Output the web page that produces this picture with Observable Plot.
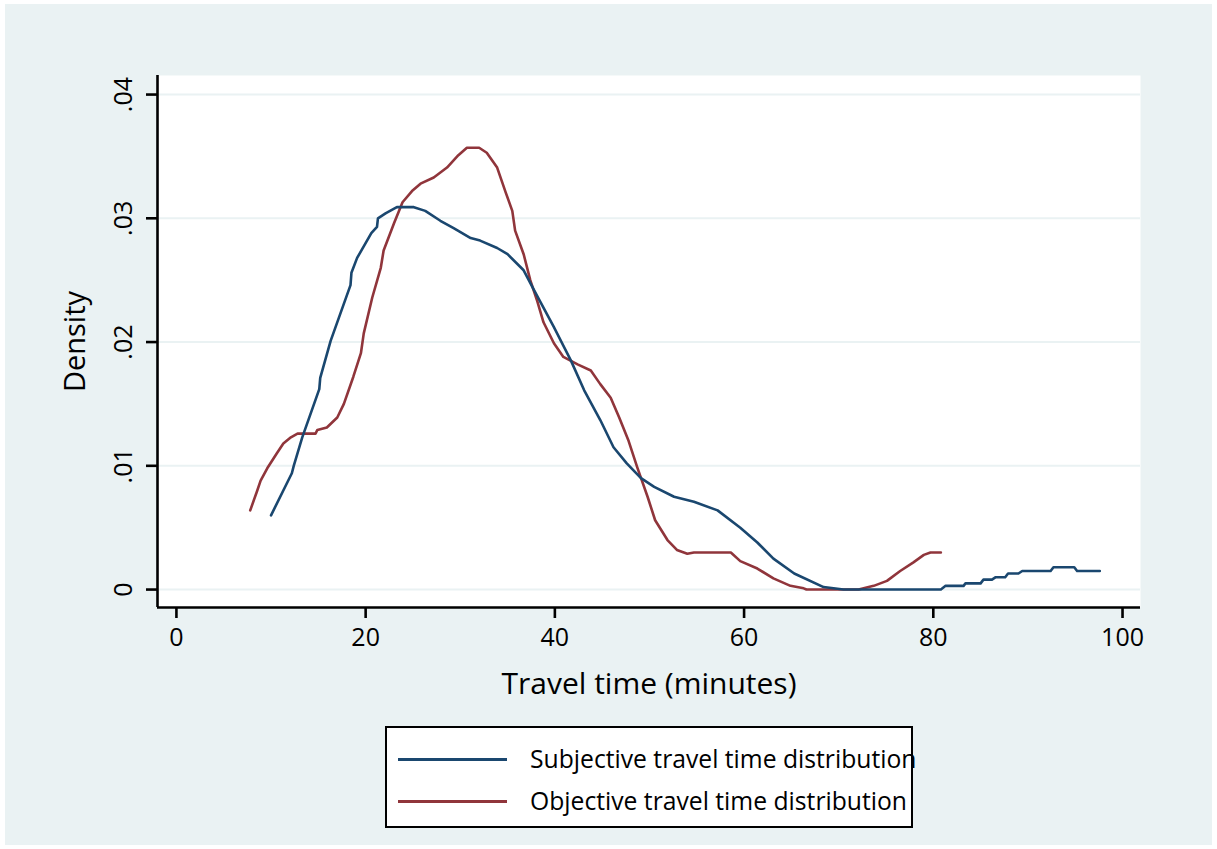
<!DOCTYPE html>
<html>
<head>
<meta charset="utf-8">
<script src="https://cdn.jsdelivr.net/npm/d3@7"></script>
<script src="https://cdn.jsdelivr.net/npm/@observablehq/plot@0.6"></script>
<style>
  html, body { margin: 0; padding: 0; background: #ffffff; }
  #wrap { position: absolute; left: 5px; top: 4px; width: 1207px; height: 841px; background: #EAF2F3; font-family: "Open Sans", sans-serif; }
  #chart { position: absolute; left: 0; top: 0; }
  #legend { position: absolute; left: 380px; top: 722px; width: 528px; height: 102px; box-sizing: border-box; border: 2.5px solid #000; background: #fff; }
  .item { position: absolute; left: 0; height: 30px; white-space: nowrap; }
  .swatch { position: absolute; left: 11px; width: 109px; height: 3px; }
  .label { position: absolute; left: 143px; top: 0; line-height: 30px; font-size: 24.7px; color: #000; white-space: nowrap; }
</style>
</head>
<body>
<div id="wrap">
  <div id="chart"></div>
  <div id="legend"></div>
</div>
<script>
// ---- data ----
const seriesNames = ["Subjective travel time distribution", "Objective travel time distribution"];
const seriesColors = ["#1A476F", "#90353B"];

const subjX = [10.0,12.2,12.4,13.3,15.1,15.2,16.3,18.4,18.5,19.1,20.6,21.2,21.3,22.1,23.3,25.1,26.3,27.9,29.3,31.1,32.1,33.9,35.0,36.7,37.8,39.9,41.7,43.1,44.8,46.2,47.6,49.1,50.5,52.6,54.7,57.2,59.6,61.4,63.1,65.3,68.4,70.5,80.8,81.3,83.2,83.4,85.0,85.3,86.2,86.6,87.6,87.9,89.0,89.4,92.4,92.7,94.9,95.2,97.6];
const subjY = [0.0060,0.0094,0.0100,0.0123,0.0162,0.0171,0.0201,0.0246,0.0256,0.0268,0.0288,0.0293,0.0300,0.0304,0.0309,0.0309,0.0306,0.0298,0.0292,0.0284,0.0282,0.0276,0.0271,0.0258,0.0242,0.0212,0.0185,0.0161,0.0137,0.0115,0.0102,0.0090,0.0083,0.0075,0.0071,0.0064,0.0050,0.0038,0.0025,0.0013,0.0002,0.0000,0.0000,0.0003,0.0003,0.0005,0.0005,0.0008,0.0008,0.0010,0.0010,0.0013,0.0013,0.0015,0.0015,0.0018,0.0018,0.0015,0.0015];

const objX = [7.8,8.5,8.9,9.6,10.6,11.3,12.1,12.8,14.7,14.9,15.9,17.0,17.7,18.7,19.5,19.8,20.7,21.6,21.9,23.0,23.9,24.9,25.8,27.2,28.6,29.8,30.7,32.0,32.8,33.9,34.8,35.5,35.8,36.7,37.4,38.1,38.8,39.9,40.9,42.4,43.8,44.8,45.9,46.8,47.8,48.7,49.8,50.6,51.9,52.9,54.0,54.7,58.6,59.6,61.4,63.1,64.9,66.3,66.6,72.1,73.7,75.1,76.5,77.9,79.0,79.7,80.8];
const objY = [0.0064,0.0079,0.0088,0.0098,0.0110,0.0118,0.0123,0.0126,0.0126,0.0129,0.0131,0.0139,0.0150,0.0172,0.0191,0.0207,0.0236,0.0260,0.0274,0.0296,0.0313,0.0322,0.0328,0.0333,0.0341,0.0351,0.0357,0.0357,0.0353,0.0341,0.0321,0.0306,0.0290,0.0271,0.0250,0.0234,0.0216,0.0199,0.0188,0.0182,0.0177,0.0166,0.0155,0.0139,0.0120,0.0099,0.0075,0.0056,0.0040,0.0032,0.0029,0.0030,0.0030,0.0023,0.0017,0.0009,0.0003,0.0001,0.0000,0.0000,0.0003,0.0007,0.0015,0.0022,0.0028,0.0030,0.0030];

const xTicks = [0, 20, 40, 60, 80, 100];
const xTickLabels = ["0", "20", "40", "60", "80", "100"];
const yTicks = [0, 0.01, 0.02, 0.03, 0.04];
const yTickLabels = ["0", ".01", ".02", ".03", ".04"];
const xTitle = "Travel time (minutes)";
const yTitle = "Density";
const xDomain = [-2.0, 101.9];
const yDomain = [-0.00145, 0.04154];

// ---- build tables ----
const subj = subjX.map((x, i) => ({x, y: subjY[i]}));
const obj = objX.map((x, i) => ({x, y: objY[i]}));
const yTickData = yTicks.map((v, i) => ({v, label: yTickLabels[i]}));

const plot = Plot.plot({
  width: 1207,
  height: 720,
  marginLeft: 152,
  marginRight: 72,
  marginTop: 71,
  marginBottom: 117,
  style: {fontFamily: "Open Sans, sans-serif", fontSize: "25px", color: "#000", background: "transparent", overflow: "visible"},
  x: {domain: xDomain},
  y: {domain: yDomain},
  marks: [
    Plot.frame({fill: "white", stroke: null}),
    Plot.ruleY(yTicks, {stroke: "#EAF2F3", strokeWidth: 2}),
    Plot.line(obj, {x: "x", y: "y", stroke: seriesColors[1], strokeWidth: 2.6}),
    Plot.line(subj, {x: "x", y: "y", stroke: seriesColors[0], strokeWidth: 2.6}),
    Plot.ruleX([xDomain[0]], {stroke: "#000", strokeWidth: 2.6}),
    Plot.ruleY([yDomain[0]], {stroke: "#000", strokeWidth: 2.6}),
    Plot.axisX(xTicks, {anchor: "bottom", tickSize: 11, tickPadding: 10, strokeWidth: 2.6, fontSize: 25,
      tickFormat: (d) => xTickLabels[xTicks.indexOf(d)], label: null}),
    Plot.axisY(yTicks, {anchor: "left", tickSize: 11, strokeWidth: 2.6, tickFormat: () => "", label: null}),
    Plot.text(yTickData, {y: "v", text: "label", frameAnchor: "left", dx: -34, rotate: -90, fontSize: 25, textAnchor: "middle", lineAnchor: "middle"}),
    Plot.text([yTitle], {text: d => d, frameAnchor: "left", dx: -82, rotate: -90, fontSize: 29, textAnchor: "middle", lineAnchor: "middle"}),
    Plot.text([xTitle], {text: d => d, frameAnchor: "bottom", dy: 77, fontSize: 30, textAnchor: "middle", lineAnchor: "middle"})
  ]
});
document.getElementById("chart").appendChild(plot);

// ---- legend ----
const legend = document.getElementById("legend");
const rowTops = [16, 58];
seriesNames.forEach((name, i) => {
  const item = document.createElement("div");
  item.className = "item";
  item.style.top = rowTops[i] + "px";
  item.style.width = "100%";
  const sw = document.createElement("div");
  sw.className = "swatch";
  sw.style.background = seriesColors[i];
  sw.style.top = "14px";
  const lb = document.createElement("div");
  lb.className = "label";
  lb.textContent = name;
  item.appendChild(sw);
  item.appendChild(lb);
  legend.appendChild(item);
});
</script>
</body>
</html>
